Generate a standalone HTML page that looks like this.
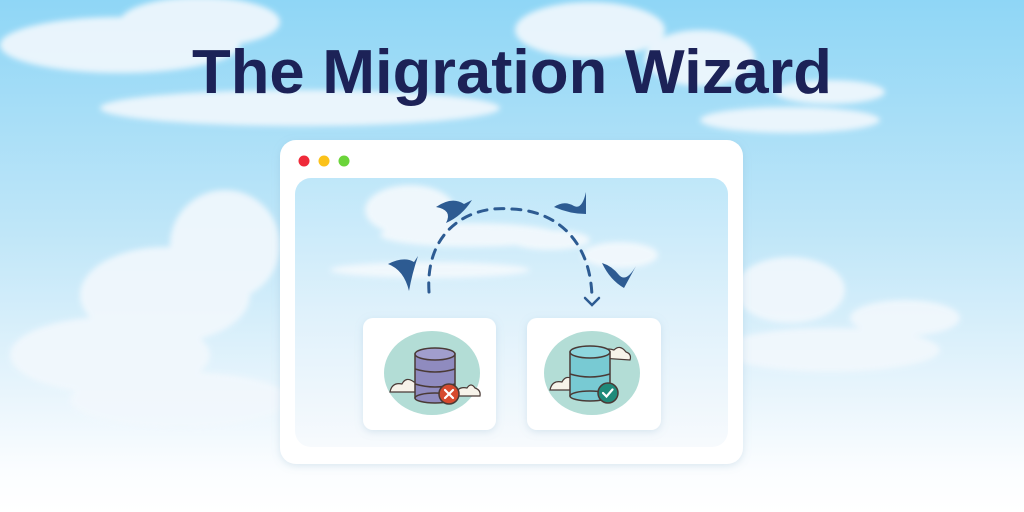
<!DOCTYPE html>
<html><head><meta charset="utf-8"><style>
html,body{margin:0;padding:0;width:1024px;height:512px;overflow:hidden}
</style></head><body>
<svg width="1024" height="512" viewBox="0 0 1024 512" xmlns="http://www.w3.org/2000/svg">
<defs>
<linearGradient id="sky" x1="0" y1="0" x2="0" y2="1">
<stop offset="0" stop-color="#8fd6f6"/><stop offset="0.45" stop-color="#bfe6f8"/><stop offset="0.75" stop-color="#e6f4fc"/><stop offset="0.92" stop-color="#fbfdff"/><stop offset="1" stop-color="#ffffff"/>
</linearGradient>
<linearGradient id="inner" x1="0" y1="0" x2="0" y2="1">
<stop offset="0" stop-color="#bfe7f9"/><stop offset="0.5" stop-color="#dff1fb"/><stop offset="1" stop-color="#f7fafd"/>
</linearGradient>
<filter id="sh" x="-10%" y="-10%" width="120%" height="120%"><feDropShadow dx="0" dy="2" stdDeviation="4" flood-color="#7aa7c4" flood-opacity="0.25"/></filter>
<filter id="bl"><feGaussianBlur stdDeviation="3"/></filter>
</defs>
<rect width="1024" height="512" fill="url(#sky)"/>
<g fill="#f2f8fd" opacity="0.9" filter="url(#bl)">
<ellipse cx="120" cy="45" rx="120" ry="28"/><ellipse cx="200" cy="22" rx="80" ry="25"/>
<ellipse cx="590" cy="30" rx="75" ry="28"/><ellipse cx="700" cy="58" rx="55" ry="28"/>
<ellipse cx="300" cy="108" rx="200" ry="18"/><ellipse cx="790" cy="120" rx="90" ry="13"/>
<ellipse cx="830" cy="92" rx="55" ry="12"/>
<ellipse cx="225" cy="245" rx="55" ry="55"/><ellipse cx="165" cy="295" rx="85" ry="48"/>
<ellipse cx="110" cy="355" rx="100" ry="38"/><ellipse cx="180" cy="400" rx="110" ry="28"/>
<ellipse cx="790" cy="290" rx="55" ry="33"/><ellipse cx="905" cy="318" rx="55" ry="18"/>
<ellipse cx="830" cy="350" rx="110" ry="22"/>
</g>
<text x="512" y="93" text-anchor="middle" font-family="Liberation Sans, sans-serif" font-weight="bold" font-size="62" fill="#1c2257" textLength="640" lengthAdjust="spacingAndGlyphs">The Migration Wizard</text>
<rect x="280" y="140" width="463" height="324" rx="16" fill="#ffffff" filter="url(#sh)"/>
<circle cx="304" cy="161" r="5.5" fill="#ef2a3a"/><circle cx="324" cy="161" r="5.5" fill="#fbc21a"/><circle cx="344" cy="161" r="5.5" fill="#6bd43a"/>
<rect x="295" y="178" width="433" height="269" rx="16" fill="url(#inner)"/>
<g fill="#f4f9fd" opacity="0.9" filter="url(#bl)">
<ellipse cx="410" cy="210" rx="45" ry="25"/><ellipse cx="470" cy="235" rx="90" ry="12"/>
<ellipse cx="430" cy="270" rx="100" ry="8"/><ellipse cx="550" cy="240" rx="40" ry="10"/>
<ellipse cx="620" cy="255" rx="38" ry="13"/>
</g>
<path d="M429 292 C 425 230 470 205 510 209 C 560 210 592 245 592 300" fill="none" stroke="#2d5b92" stroke-width="3" stroke-dasharray="9 8" stroke-linecap="round"/>
<path d="M585 298 L592 305 L599 298" fill="none" stroke="#2d5b92" stroke-width="2.5" stroke-linecap="round"/>
<g fill="#2d5b92">
<path d="M388 264 Q404 256 414 262 L418 256 Q412 274 409 291 Q404 270 388 264Z"/>
<path d="M436 207 Q452 196 464 204 L472 200 Q462 216 446 223 Q453 210 436 207Z"/>
<path d="M554 207 Q570 214 586 214 L586 192 Q582 210 574 206 Q564 200 554 207Z"/>
<path d="M602 263 Q610 280 624 288 L636 266 Q626 283 619 275 Q612 266 602 263Z"/>
</g>
<rect x="363" y="318" width="133" height="112" rx="10" fill="#ffffff" filter="url(#sh)"/>
<rect x="527" y="318" width="134" height="112" rx="10" fill="#ffffff" filter="url(#sh)"/>
<ellipse cx="432" cy="373" rx="48" ry="42" fill="#b3ddd6"/>
<g fill="#f7f3ea" stroke="#4a3a36" stroke-width="1.2">
<path d="M390 392 q2 -10 12 -8 q4 -8 12 -2 q6 0 6 10z"/>
<path d="M455 396 q2 -10 12 -8 q4 -6 8 0 q6 2 5 8z"/>
</g>
<rect x="415" y="354" width="40" height="44" fill="#8f8bbf" stroke="#4a3a36" stroke-width="1.5"/>
<ellipse cx="435" cy="354" rx="20" ry="6" fill="#a19ecd" stroke="#4a3a36" stroke-width="1.5"/>
<path d="M415 369 q20 6 40 0 M415 384 q20 6 40 0" fill="none" stroke="#4a3a36" stroke-width="1.5"/>
<ellipse cx="435" cy="398" rx="20" ry="5" fill="#8f8bbf" stroke="#4a3a36" stroke-width="1.5"/>
<circle cx="449" cy="394" r="10" fill="#d64a2e" stroke="#4a3a36" stroke-width="1.5"/>
<path d="M445 390 l8 8 M453 390 l-8 8" stroke="#fff" stroke-width="2.2" stroke-linecap="round"/>
<ellipse cx="592" cy="373" rx="48" ry="42" fill="#b3ddd6"/>
<g fill="#f7f3ea" stroke="#4a3a36" stroke-width="1.2">
<path d="M600 358 q2 -12 14 -8 q6 -6 12 2 q6 2 4 8z"/>
<path d="M550 390 q2 -10 12 -8 q4 -8 12 -2 q6 0 6 10z"/>
</g>
<rect x="570" y="352" width="40" height="44" fill="#78cad3" stroke="#4a3a36" stroke-width="1.5"/>
<ellipse cx="590" cy="352" rx="20" ry="6" fill="#8ed6de" stroke="#4a3a36" stroke-width="1.5"/>
<path d="M570 374 q20 6 40 0" fill="none" stroke="#4a3a36" stroke-width="1.5"/>
<ellipse cx="590" cy="396" rx="20" ry="5" fill="#78cad3" stroke="#4a3a36" stroke-width="1.5"/>
<circle cx="608" cy="393" r="10" fill="#1f8a7a" stroke="#4a3a36" stroke-width="1.5"/>
<path d="M603 393 l3.5 3.5 l6 -7" fill="none" stroke="#fff" stroke-width="2.2" stroke-linecap="round"/>
</svg>
</body></html>
